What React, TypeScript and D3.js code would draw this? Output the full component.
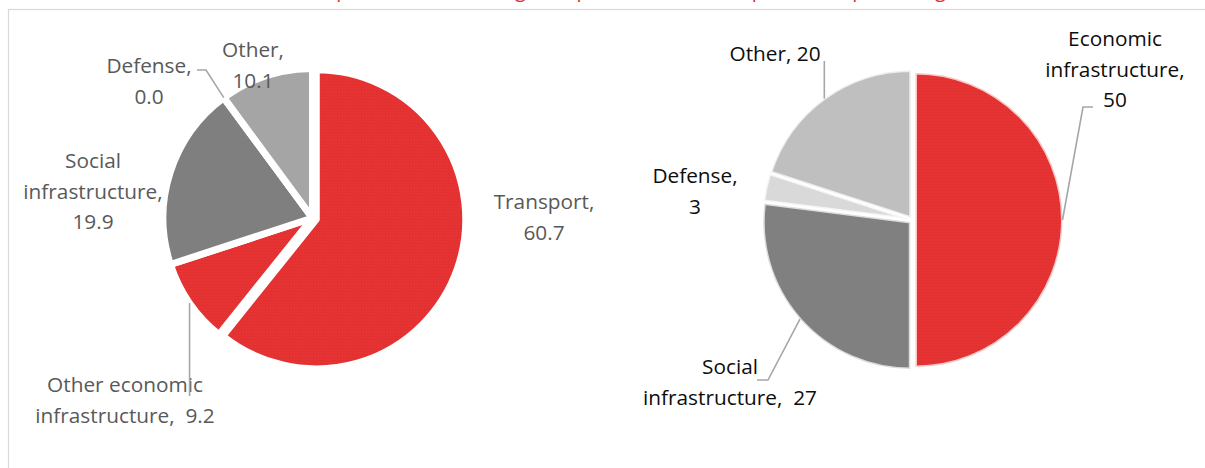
import React from "react";
import * as d3 from "d3";

// ---------- data ----------
const leftCategories = ["Transport", "Other economic infrastructure", "Social infrastructure", "Defense", "Other"];
const leftValues = [60.7, 9.2, 19.9, 0.0, 10.1];
const leftColors = ["url(#redgrid)", "url(#redgrid)", "#7f7f7f", "#d9d9d9", "#a5a5a5"];
const leftLabelLines = [
  ["Transport,", "60.7"],
  ["Other economic", "infrastructure,  9.2"],
  ["Social", "infrastructure,", "19.9"],
  ["Defense,", "0.0"],
  ["Other,", "10.1"],
];

const rightCategories = ["Economic infrastructure", "Social infrastructure", "Defense", "Other"];
const rightValues = [50, 27, 3, 20];
const rightColors = ["url(#redgrid)", "#808080", "#d9d9d9", "#bfbfbf"];
const rightLabelLines = [
  ["Economic", "infrastructure,", "50"],
  ["Social", "infrastructure,  27"],
  ["Defense,", "3"],
  ["Other, 20"],
];

const titleText = "Sector composition of financing: comparison of the two portfolios, percentage, %";

// ---------- layout ----------
const W = 1205, H = 468;
const FONT = "'Open Sans', 'Noto Sans', sans-serif";
const FS = 20.8;
const LH = 30.5;

const L = { cx: 312.5, cy: 218, r: 149.5 };
const R = { cx: 912.5, cy: 220, r: 147 };

// label anchor (center x, first baseline y) per slice
const leftLabelPos = [[544, 209], [125, 392], [93, 168], [149, 73], [253, 57]];
const rightLabelPos = [[1115, 46], [730, 374], [695, 183], [775, 61]];

function polar(cx: number, cy: number, r: number, a: number): [number, number] {
  return [cx + r * Math.sin(a), cy - r * Math.cos(a)];
}

export default function App() {
  const pie = d3.pie<number>().sort(null).value((d) => d);
  const leftArcs = pie(leftValues);
  const rightArcs = pie(rightValues);

  const arcL = d3.arc<d3.PieArcDatum<number>>().innerRadius(0).outerRadius(L.r);
  const arcR = d3.arc<d3.PieArcDatum<number>>().innerRadius(0).outerRadius(R.r);

  const leftExplode = [4, 0, 0, 0, 0];
  const rightExplode = [3, 3, 3, 3];

  const mid = (a: d3.PieArcDatum<number>) => (a.startAngle + a.endAngle) / 2;

  // leader lines (left)
  const defA = leftArcs[3].startAngle;
  const defPt = polar(L.cx, L.cy, L.r, defA);
  const oeA = mid(leftArcs[1]);
  const oePt = polar(L.cx, L.cy, L.r, oeA);
  const lineGen = d3.line();

  // leader lines (right)
  const rOff = (i: number) => {
    const m = mid(rightArcs[i]);
    return [Math.sin(m) * rightExplode[i], -Math.cos(m) * rightExplode[i]];
  };
  const ecoO = rOff(0);
  const ecoPt = polar(R.cx + ecoO[0], R.cy + ecoO[1], R.r, mid(rightArcs[0]));
  const socO = rOff(1);
  const socPt = polar(R.cx + socO[0], R.cy + socO[1], R.r, mid(rightArcs[1]));
  const othO = rOff(3);
  const othPt = polar(R.cx + othO[0], R.cy + othO[1], R.r, mid(rightArcs[3]));

  const leaders: [number, number][][] = [
    [[197, 70], [206, 70], defPt],
    [oePt, [oePt[0], 396]],
    [othPt, [othPt[0], 61]],
    [ecoPt, [1083, 107], [1093, 107]],
    [socPt, [768, 380], [757, 380]],
  ];

  return (
    <svg width={W} height={H} style={{ position: "absolute", left: 0, top: 0, background: "#fff" }}>
      <defs>
        <pattern id="redgrid" width={3} height={3} patternUnits="userSpaceOnUse">
          <rect width={3} height={3} fill="#e83434" />
          <path d="M0 0.5H3M0.5 0V3" stroke="#c91f1f" strokeWidth={1} opacity={0.22} />
        </pattern>
      </defs>
      <rect width={W} height={H} fill="#fff" />
      <text x={608} y={-3.5} textAnchor="middle" fill="#e03030" fontFamily={FONT} fontSize={20}>
        {titleText}
      </text>
      <rect x={8.5} y={9.5} width={1400} height={600} fill="none" stroke="#d9d9d9" strokeWidth={1.2} />

      {/* left pie */}
      <g>
        {leftArcs.map((a, i) => {
          const m = mid(a);
          const dx = Math.sin(m) * leftExplode[i];
          const dy = -Math.cos(m) * leftExplode[i];
          return (
            <path
              key={leftCategories[i]}
              d={arcL(a) || ""}
              transform={`translate(${L.cx + dx},${L.cy + dy})`}
              fill={leftColors[i]}
              stroke="#fff"
              strokeWidth={7}
              strokeLinejoin="round"
            />
          );
        })}
      </g>

      {/* right pie */}
      <g>
        {rightArcs.map((a, i) => {
          const m = mid(a);
          const dx = Math.sin(m) * rightExplode[i];
          const dy = -Math.cos(m) * rightExplode[i];
          return (
            <path
              key={rightCategories[i]}
              d={arcR(a) || ""}
              transform={`translate(${R.cx + dx},${R.cy + dy})`}
              fill={rightColors[i]}
              stroke="#fff"
              strokeOpacity={0.72}
              strokeWidth={3}
              strokeLinejoin="round"
            />
          );
        })}
      </g>

      {/* labels */}
      <g fontFamily={FONT} fontSize={FS} textAnchor="middle">
        {leftLabelLines.map((lines, i) => (
          <text key={"l" + i} fill="#595959" x={leftLabelPos[i][0]} y={leftLabelPos[i][1]} style={{ whiteSpace: "pre" }}>
            {lines.map((t, j) => (
              <tspan key={j} x={leftLabelPos[i][0]} y={leftLabelPos[i][1] + j * LH}>{t}</tspan>
            ))}
          </text>
        ))}
        {rightLabelLines.map((lines, i) => (
          <text key={"r" + i} fill="#0d0d0d" x={rightLabelPos[i][0]} y={rightLabelPos[i][1]} style={{ whiteSpace: "pre" }}>
            {lines.map((t, j) => (
              <tspan key={j} x={rightLabelPos[i][0]} y={rightLabelPos[i][1] + j * LH}>{t}</tspan>
            ))}
          </text>
        ))}
      </g>

      {/* leader lines */}
      <g fill="none" stroke="#a6a6a6" strokeWidth={1.6}>
        {leaders.map((pts, i) => (
          <path key={i} d={lineGen(pts) || ""} />
        ))}
      </g>
    </svg>
  );
}
